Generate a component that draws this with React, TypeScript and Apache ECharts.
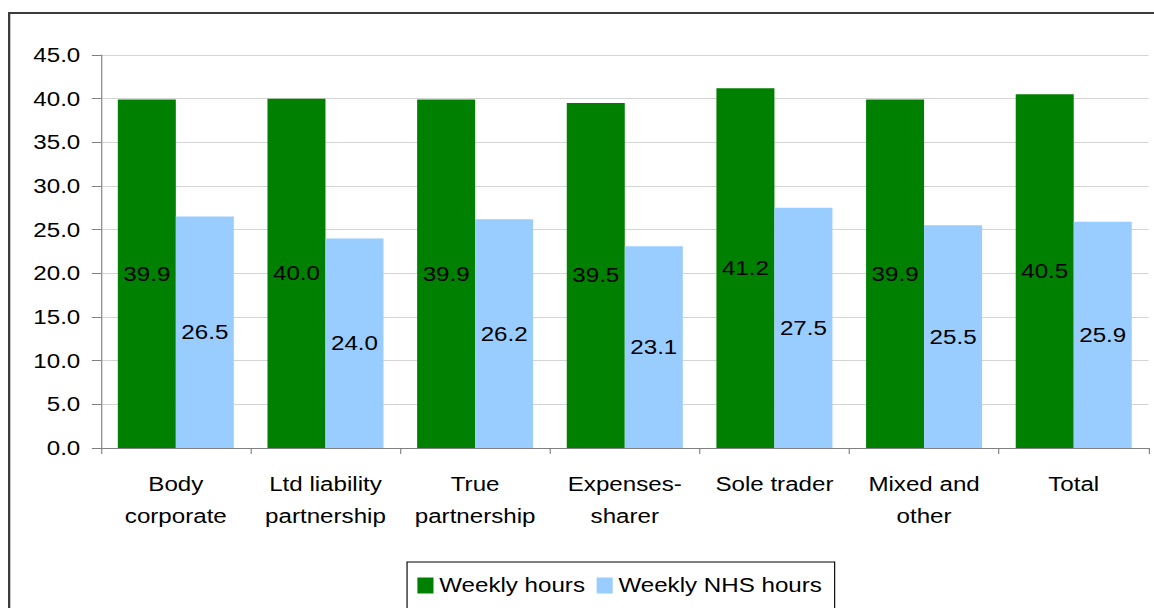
import React, { useEffect, useRef } from "react";
import * as echarts from "echarts";

const categories = [
  "Body\ncorporate",
  "Ltd liability\npartnership",
  "True\npartnership",
  "Expenses-\nsharer",
  "Sole trader",
  "Mixed and\nother",
  "Total",
];
const weeklyHours = [39.9, 40.0, 39.9, 39.5, 41.2, 39.9, 40.5];
const weeklyNhsHours = [26.5, 24.0, 26.2, 23.1, 27.5, 25.5, 25.9];
const seriesNames = ["Weekly hours", "Weekly NHS hours"];
const yMin = 0;
const yMax = 45;
const yStep = 5;

const SX = 1.15; // horizontal stretch of the reference image
const W = 1146;
const H = 600;
const FONT = "'Liberation Sans', Arial, sans-serif";

export default function App() {
  const ref = useRef<HTMLDivElement>(null);
  useEffect(() => {
    if (!ref.current) return;
    const chart = echarts.init(ref.current, undefined, { renderer: "svg" });
    const gridLeft = 93 / SX;
    const gridRightEdge = 1140 / SX;
    const innerW = W / SX;
    const labelStyle = {
      show: true,
      position: "inside" as const,
      color: "#000",
      fontSize: 21,
      fontFamily: FONT,
      formatter: (p: any) => Number(p.value).toFixed(1),
    };
    chart.setOption({
      animation: false,
      backgroundColor: "#fff",
      textStyle: { fontFamily: FONT },
      graphic: [
        {
          type: "rect",
          shape: { x: 1, y: 5, width: 3000, height: 3000 },
          style: { fill: "none", stroke: "#3c3c3c", lineWidth: 2 },
          silent: true,
        },
      ],
      grid: {
        left: gridLeft,
        right: innerW - gridRightEdge,
        top: 47,
        bottom: H - 440,
        containLabel: false,
      },
      legend: {
        left: 347,
        top: 554,
        orient: "horizontal",
        data: seriesNames,
        icon: "rect",
        itemWidth: 14,
        itemHeight: 16,
        itemGap: 10,
        itemTextGap: 6,
        padding: [13, 11, 13, 9],
        borderColor: "#000",
        borderWidth: 1,
        textStyle: { fontSize: 21, color: "#000", fontFamily: FONT },
      },
      xAxis: {
        type: "category",
        data: categories,
        axisLine: { show: true, lineStyle: { color: "#808080", width: 1 } },
        axisTick: { show: true, length: 6, lineStyle: { color: "#808080" } },
        axisLabel: {
          color: "#000",
          fontSize: 21,
          fontFamily: FONT,
          lineHeight: 32,
          margin: 20,
          interval: 0,
        },
        splitLine: { show: false },
      },
      yAxis: {
        type: "value",
        min: yMin,
        max: yMax,
        interval: yStep,
        axisLine: { show: true, lineStyle: { color: "#808080", width: 1 } },
        axisTick: { show: true, length: 8, lineStyle: { color: "#808080" } },
        axisLabel: {
          color: "#000",
          fontSize: 21,
          fontFamily: FONT,
          margin: 18,
          formatter: (v: number) => v.toFixed(1),
        },
        splitLine: { show: true, lineStyle: { color: "#d4d4d4", width: 1 } },
      },
      series: [
        {
          name: seriesNames[0],
          type: "bar",
          data: weeklyHours,
          barWidth: 58 / SX,
          barGap: "0%",
          itemStyle: { color: "#008000" },
          label: labelStyle,
        },
        {
          name: seriesNames[1],
          type: "bar",
          data: weeklyNhsHours,
          barWidth: 58 / SX,
          barGap: "0%",
          itemStyle: { color: "#99ccff" },
          label: labelStyle,
        },
      ],
    });
    return () => chart.dispose();
  }, []);
  return (
    <div
      style={{
        position: "absolute",
        left: 8,
        top: 8,
        width: W,
        height: H,
        overflow: "hidden",
      }}
    >
      <div
        ref={ref}
        style={{
          width: W / SX,
          height: H,
          transform: `scaleX(${SX})`,
          transformOrigin: "0 0",
        }}
      />
    </div>
  );
}
